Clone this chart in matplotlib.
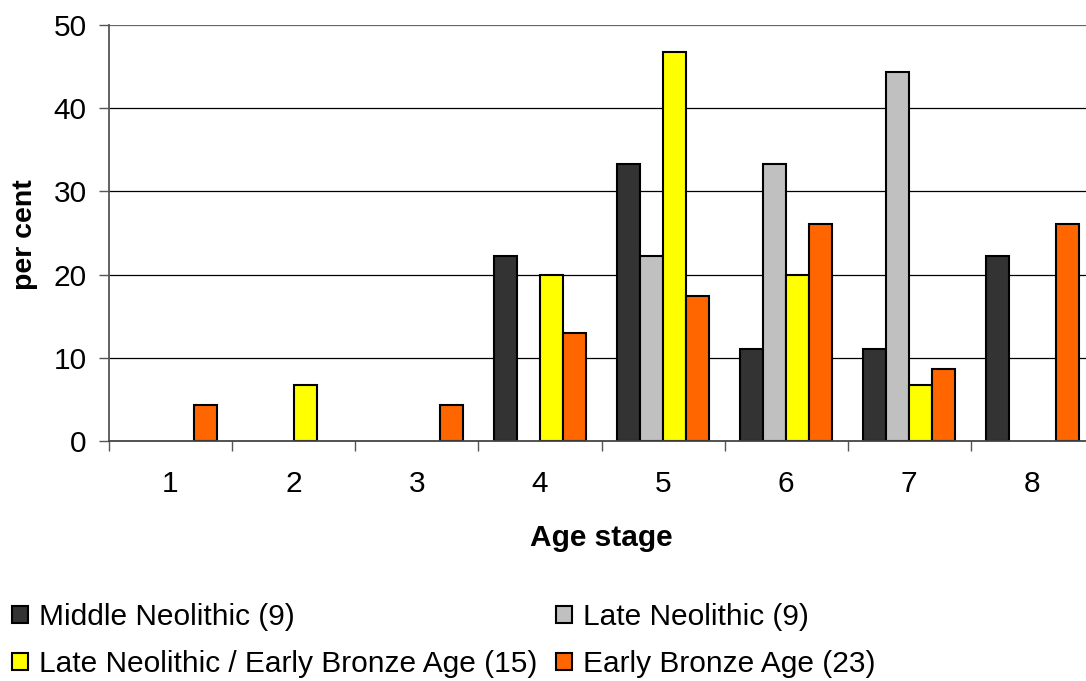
import matplotlib
matplotlib.use("Agg")
import matplotlib.pyplot as plt
from matplotlib.patches import Patch
import numpy as np

plt.rcParams['font.family'] = ['Liberation Sans', 'DejaVu Sans']

stages = ['1', '2', '3', '4', '5', '6', '7', '8']
series_names = ['Middle Neolithic (9)', 'Late Neolithic (9)',
                'Late Neolithic / Early Bronze Age (15)', 'Early Bronze Age (23)']
middle_neolithic = [0, 0, 0, 22.2, 33.3, 11.1, 11.1, 22.2]
late_neolithic = [0, 0, 0, 0, 22.2, 33.3, 44.4, 0]
ln_eba = [0, 6.7, 0, 20.0, 46.7, 20.0, 6.7, 0]
early_bronze = [4.3, 0, 4.3, 13.0, 17.4, 26.1, 8.7, 26.1]
colors = ['#333333', '#C0C0C0', '#FFFF00', '#FF6600']
yticks = [0, 10, 20, 30, 40, 50]

FS = 21.5
W, H = 1086, 681
fig = plt.figure(figsize=(W / 100, H / 100), dpi=100)
ax = fig.add_axes([109 / W, (H - 441) / H, 985 / W, 416 / H])

x = np.arange(len(stages))
bw = 0.1875
for i, (vals, c) in enumerate(zip([middle_neolithic, late_neolithic, ln_eba, early_bronze], colors)):
    pos = x + (i - 1.5) * bw
    v = np.array(vals, dtype=float)
    m = v > 0
    ax.bar(pos[m], v[m], width=bw, color=c, edgecolor='black', linewidth=1.5, zorder=3)

ax.set_xlim(-0.5, 7.5)
ax.set_ylim(0, 50)
ax.set_yticks(yticks)
ax.set_yticklabels([str(t) for t in yticks], fontsize=FS)
for t in yticks[1:]:
    ax.axhline(t, color='black' if t < 50 else '#666666', linewidth=0.9, zorder=1)

ax.set_xticks(np.arange(-0.5, 8.0, 1.0))
ax.set_xticklabels([])
ax.set_xticks(x, minor=True)
ax.set_xticklabels(stages, minor=True, fontsize=FS)
ax.tick_params(axis='x', which='major', direction='out', length=7, width=1, color='#555555')
ax.tick_params(axis='x', which='minor', length=0, pad=21)
ax.tick_params(axis='y', direction='out', length=7, width=1, color='#555555', pad=9)

for s in ['top', 'right']:
    ax.spines[s].set_visible(False)
ax.spines['left'].set_color('#555555')
ax.spines['left'].set_linewidth(1.3)
ax.spines['bottom'].set_color('#444444')
ax.spines['bottom'].set_linewidth(1.3)
ax.spines['bottom'].set_zorder(4)

fig.text(25 / W, 1 - 235 / H, 'per cent', rotation=90, fontsize=20.5, fontweight='bold',
         ha='center', va='center')
fig.text(601 / W, 1 - 538 / H, 'Age stage', fontsize=FS, fontweight='bold',
         ha='center', va='center')

handles = [Patch(facecolor=c, edgecolor='black', linewidth=1.5) for c in colors]
order = [0, 2, 1, 3]
fig.legend([handles[i] for i in order], [series_names[i] for i in order],
           ncol=2, loc='upper left', bbox_to_anchor=(12 / W, 1 - 603 / H),
           frameon=False, fontsize=FS, handlelength=0.54, handleheight=0.54,
           handletextpad=0.37, columnspacing=0.62, labelspacing=0.64, borderpad=0,
           borderaxespad=0)

fig.savefig('out.png', dpi=100)
